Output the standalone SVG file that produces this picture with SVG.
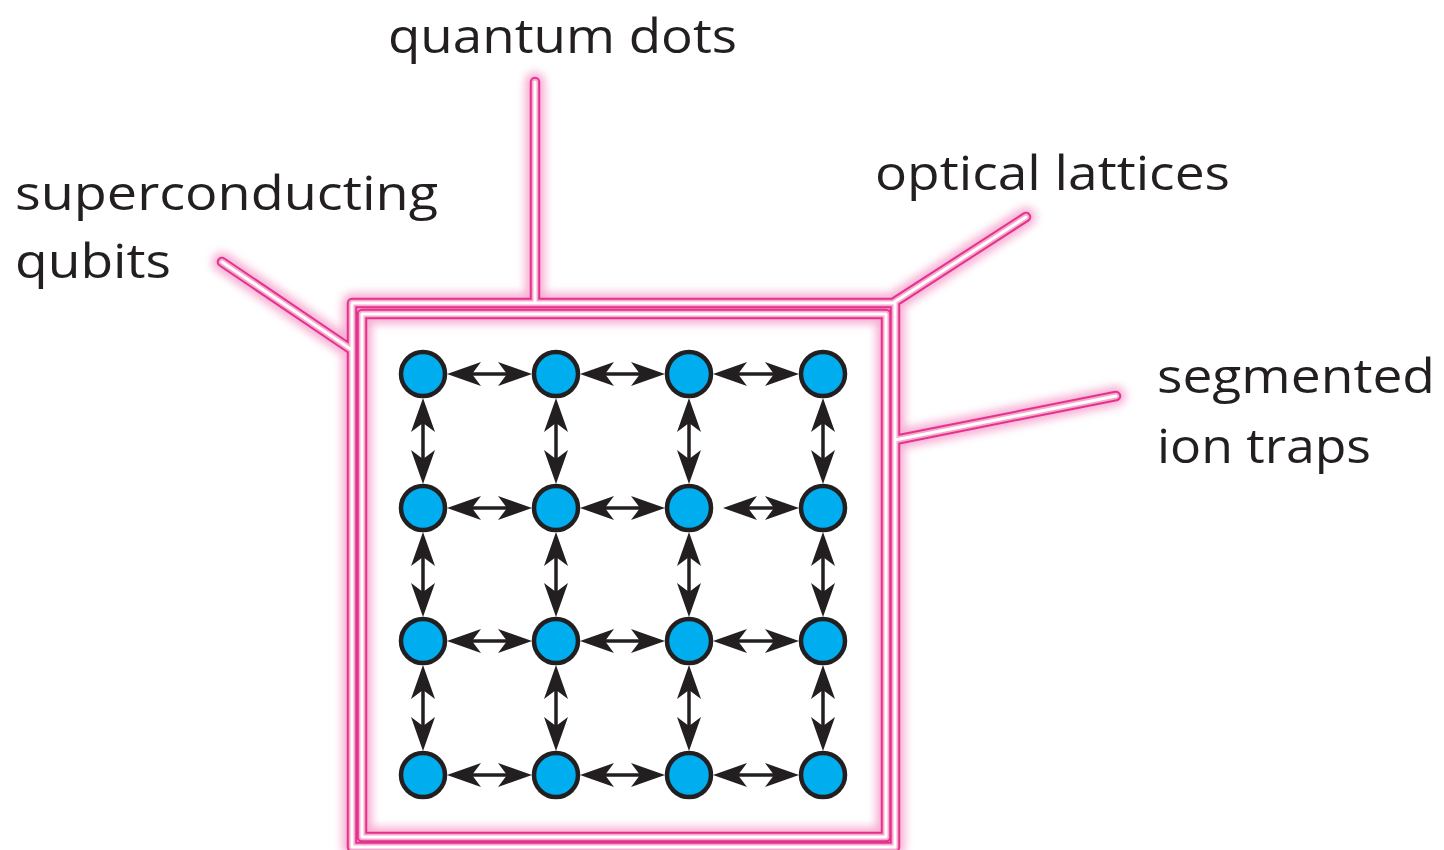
<svg xmlns="http://www.w3.org/2000/svg" width="1444" height="850" viewBox="0 0 1444 850">
<style>
.lbl{font-family:"Open Sans","Noto Sans",sans-serif;font-size:48px;fill:#231f20}
.glow{fill:none;stroke:#f27bb8;stroke-width:20;stroke-linecap:round;stroke-linejoin:round;opacity:0.6;filter:url(#blur)}
.pk{fill:none;stroke:#e6318c;stroke-width:10.5;stroke-linecap:round;stroke-linejoin:round}
.lt{fill:none;stroke:#f4a9cf;stroke-width:6.5;stroke-linecap:round;stroke-linejoin:round}
.wh{fill:none;stroke:#ffffff;stroke-width:3;stroke-linecap:round;stroke-linejoin:round}
.node{fill:#00aeef;stroke:#231f20;stroke-width:4.5}
.arr{stroke:#231f20;stroke-width:3.5;fill:none;marker-start:url(#ah);marker-end:url(#ah)}
</style>
<defs>
<filter id="blur" x="-10%" y="-10%" width="120%" height="120%"><feGaussianBlur stdDeviation="4.5"/></filter>
<marker id="ah" viewBox="-35 -13 36 26" markerWidth="36" markerHeight="26" refX="-20" refY="0" orient="auto-start-reverse" markerUnits="userSpaceOnUse">
<path d="M0,0 L-34,-12 L-25,0 L-34,12 Z" fill="#231f20"/>
</marker>
</defs>
<rect width="1444" height="850" fill="#ffffff"/>
<g id="frame">
<g class="glow">
<path d="M352,303 H895 V847 H352 Z M362,314 H886 V837 H362 Z M535,82 V303 M222,262 L352,350 M1026,217 L893,303 M1116,396 L895,440"/>
</g>
<g class="pk">
<path d="M352,303 H895 V847 H352 Z M362,314 H886 V837 H362 Z M535,82 V303 M222,262 L352,350 M1026,217 L893,303 M1116,396 L895,440"/>
</g>
<g class="lt">
<path d="M352,303 H895 V847 H352 Z M362,314 H886 V837 H362 Z M535,82 V303 M222,262 L352,350 M1026,217 L893,303 M1116,396 L895,440"/>
</g>
<g class="wh">
<path d="M352,303 H895 V847 H352 Z M362,314 H886 V837 H362 Z M535,82 V303 M222,262 L352,350 M1026,217 L893,303 M1116,396 L895,440"/>
</g>
</g>
<g id="labels">
<text class="lbl" x="388" y="53" textLength="349" lengthAdjust="spacingAndGlyphs">quantum dots</text>
<text class="lbl" x="15" y="210" textLength="423" lengthAdjust="spacingAndGlyphs">superconducting</text>
<text class="lbl" x="15" y="278" textLength="156" lengthAdjust="spacingAndGlyphs">qubits</text>
<text class="lbl" x="875" y="190" textLength="355" lengthAdjust="spacingAndGlyphs">optical lattices</text>
<text class="lbl" x="1157" y="393" textLength="278" lengthAdjust="spacingAndGlyphs">segmented</text>
<text class="lbl" x="1157" y="463" textLength="214" lengthAdjust="spacingAndGlyphs">ion traps</text>
</g>
<g id="connectors">
<line class="arr" x1="467" y1="374" x2="512" y2="374"/>
<line class="arr" x1="600" y1="374" x2="645" y2="374"/>
<line class="arr" x1="733" y1="374" x2="779" y2="374"/>
<line class="arr" x1="467" y1="508" x2="512" y2="508"/>
<line class="arr" x1="600" y1="508" x2="645" y2="508"/>
<line class="arr" x1="743" y1="508" x2="779" y2="508"/>
<line class="arr" x1="467" y1="641" x2="512" y2="641"/>
<line class="arr" x1="600" y1="641" x2="645" y2="641"/>
<line class="arr" x1="733" y1="641" x2="779" y2="641"/>
<line class="arr" x1="467" y1="775" x2="512" y2="775"/>
<line class="arr" x1="600" y1="775" x2="645" y2="775"/>
<line class="arr" x1="733" y1="775" x2="779" y2="775"/>
<line class="arr" x1="423" y1="418" x2="423" y2="464"/>
<line class="arr" x1="556" y1="418" x2="556" y2="464"/>
<line class="arr" x1="689" y1="418" x2="689" y2="464"/>
<line class="arr" x1="823" y1="418" x2="823" y2="464"/>
<line class="arr" x1="423" y1="552" x2="423" y2="597"/>
<line class="arr" x1="556" y1="552" x2="556" y2="597"/>
<line class="arr" x1="689" y1="552" x2="689" y2="597"/>
<line class="arr" x1="823" y1="552" x2="823" y2="597"/>
<line class="arr" x1="423" y1="685" x2="423" y2="731"/>
<line class="arr" x1="556" y1="685" x2="556" y2="731"/>
<line class="arr" x1="689" y1="685" x2="689" y2="731"/>
<line class="arr" x1="823" y1="685" x2="823" y2="731"/>
</g>
<g id="n11"><circle class="node" cx="423" cy="374" r="22"/></g>
<g id="n12"><circle class="node" cx="556" cy="374" r="22"/></g>
<g id="n13"><circle class="node" cx="689" cy="374" r="22"/></g>
<g id="n14"><circle class="node" cx="823" cy="374" r="22"/></g>
<g id="n21"><circle class="node" cx="423" cy="508" r="22"/></g>
<g id="n22"><circle class="node" cx="556" cy="508" r="22"/></g>
<g id="n23"><circle class="node" cx="689" cy="508" r="22"/></g>
<g id="n24"><circle class="node" cx="823" cy="508" r="22"/></g>
<g id="n31"><circle class="node" cx="423" cy="641" r="22"/></g>
<g id="n32"><circle class="node" cx="556" cy="641" r="22"/></g>
<g id="n33"><circle class="node" cx="689" cy="641" r="22"/></g>
<g id="n34"><circle class="node" cx="823" cy="641" r="22"/></g>
<g id="n41"><circle class="node" cx="423" cy="775" r="22"/></g>
<g id="n42"><circle class="node" cx="556" cy="775" r="22"/></g>
<g id="n43"><circle class="node" cx="689" cy="775" r="22"/></g>
<g id="n44"><circle class="node" cx="823" cy="775" r="22"/></g>
</svg>
